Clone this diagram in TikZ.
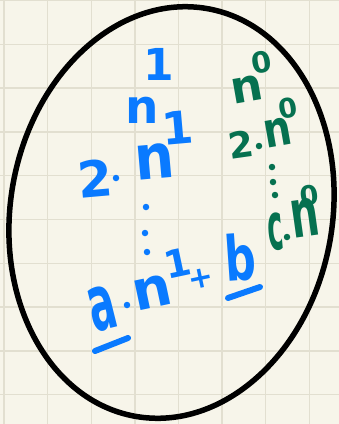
\documentclass[tikz,border=0pt]{standalone}
\usepackage{fontspec}
\setmainfont{DejaVu Sans}
\definecolor{paper}{RGB}{247,245,234}
\definecolor{gridc}{RGB}{226,223,208}
\definecolor{hblue}{RGB}{10,122,255}
\definecolor{hgreen}{RGB}{6,113,80}
\newcommand\hsz[1]{\fontsize{#1}{#1}\selectfont\bfseries}
\tikzset{
  bl/.style={text=hblue, inner sep=0pt},
  gr/.style={text=hgreen, inner sep=0pt},
  bdot/.style={circle, fill=hblue, inner sep=0pt, minimum size=6.5pt},
  gdot/.style={circle, fill=hgreen, inner sep=0pt, minimum size=6.5pt},
  uline/.style={draw=hblue, line width=6pt, line cap=round},
}
\begin{document}
\begin{tikzpicture}[x=1pt,y=1pt]
\fill[paper] (0,0) rectangle (339,-424);
\useasboundingbox (0,0) rectangle (339,-424);
% grid
\foreach \i in {0,...,7} \draw[gridc, line width=1.4pt] ({4+43.6*\i},0) -- ({4+43.6*\i},-424);
\foreach \j in {0,...,9} \draw[gridc, line width=1.4pt] (0,{-0.5-43.8*\j}) -- (339,{-0.5-43.8*\j});
% ellipse
\draw[black, line width=5.5pt, rotate around={-10:(171.5,-212.5)}] (171.5,-212.5) ellipse [x radius=161, y radius=207];
% blue column
\node[bl, font=\hsz{47}] (bn1) at (142,-110) {n};
\node[bl, font=\hsz{44}] (bs1) at (159,-64) {1};
\node[bl, font=\hsz{50}, rotate=5] (btwo) at (95,-178) {2};
\node[bdot] (bd2) at (116,-178) {};
\node[bl, font=\hsz{62}, rotate=5] (bn2) at (155,-161) {\scalebox{0.9}[1]{n}};
\node[bl, font=\hsz{45}, rotate=5] (bs2) at (178,-128) {1};
\node[bdot] (bv1) at (146,-207) {};
\node[bdot] (bv2) at (145,-233) {};
\node[bdot] (bv3) at (147,-252) {};
\node[bl, font=\hsz{50}, rotate=14] (ba) at (102,-309) {\scalebox{0.8}[1.55]{a}};
\node[bdot] (bd3) at (127,-305) {};
\node[bl, font=\hsz{55}, rotate=12] (bn3) at (152,-292) {n};
\node[bl, font=\hsz{38}, rotate=12] (bs3) at (178,-263) {1};
\node[bl, font=\hsz{30}, rotate=12] (bplus) at (201,-279) {+};
\node[bl, font=\hsz{62}, rotate=4] (bb) at (240,-257) {\scalebox{0.7}[1]{b}};
\coordinate (ua1) at (95,-351); \coordinate (ua2) at (128,-338);
\coordinate (ub1) at (228,-298); \coordinate (ub2) at (260,-287);
\draw[uline] (ua1) -- (ua2);
\draw[uline] (ub1) -- (ub2);
% green column
\node[gr, font=\hsz{45}, rotate=10] (gn1) at (247,-89) {n};
\node[gr, font=\hsz{29}, rotate=10] (gs1) at (262,-62) {0};
\node[gr, font=\hsz{36}, rotate=8] (gtwo) at (241,-145) {2};
\node[gdot] (gd2) at (259,-146) {};
\node[gr, font=\hsz{49}, rotate=10] (gn2) at (278,-133) {\scalebox{0.8}[1]{n}};
\node[gr, font=\hsz{27}, rotate=10] (gs2) at (288,-108) {0};
\node[gdot] (gv1) at (272,-167) {};
\node[gdot] (gv2) at (273,-182) {};
\node[gdot] (gv3) at (275,-195) {};
\node[gr, font=\hsz{44}, rotate=5] (gc) at (276,-232) {\scalebox{0.6}[1.5]{c}};
\node[gdot] (gd3) at (287,-237) {};
\node[gr, font=\hsz{50}, rotate=8] (gn3) at (305,-218) {\scalebox{0.8}[1.35]{n}};
\node[gr, font=\hsz{27}, rotate=8] (gs3) at (309,-195) {0};
\end{tikzpicture}
\end{document}
